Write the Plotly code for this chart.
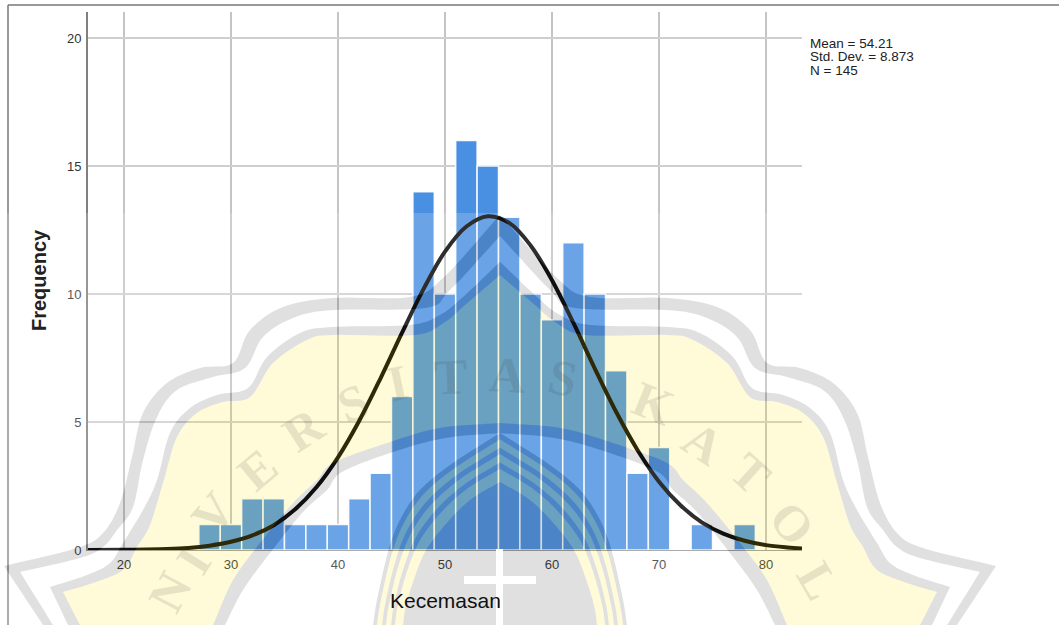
import numpy as np
import plotly.graph_objects as go

# ---------- chart data ----------
bin_centers = [28, 30, 32, 34, 36, 38, 40, 42, 44, 46, 48, 50, 52, 54, 56, 58, 60, 62, 64, 66, 68, 70, 72, 74, 76, 78]
frequencies = [1, 1, 2, 2, 1, 1, 1, 2, 3, 6, 14, 10, 16, 15, 13, 10, 9, 12, 10, 7, 3, 4, 0, 1, 0, 1]
curve_x = [16.64, 20, 24, 26, 28, 30, 32, 34, 36, 38, 40, 42, 44, 46, 48, 50, 52, 54, 56, 58, 60, 62, 64, 66, 68, 70, 72, 74, 76, 78, 80, 82, 83.36]
curve_y = [0.0, 0.01, 0.04, 0.08, 0.17, 0.32, 0.57, 0.97, 1.59, 2.46, 3.62, 5.06, 6.73, 8.5, 10.2, 11.66, 12.64, 13.04, 12.78, 11.9, 10.54, 8.87, 7.09, 5.39, 3.9, 2.67, 1.75, 1.08, 0.64, 0.36, 0.19, 0.1, 0.06]
x_ticks = [20, 30, 40, 50, 60, 70, 80]
y_ticks = [0, 5, 10, 15, 20]
stats_lines = ["Mean = 54.21", "Std. Dev. = 8.873", "N = 145"]
x_title = "Kecemasan"
y_title = "Frequency"

# ---------- page geometry ----------
W, H = 1059, 625
L, R, T, B = 88, 802, 12, 550
CX = 500

def px(x, y):
    return (x - L) / (R - L), 1 - (y - T) / (B - T)

def smooth(pts, n=10):
    p = np.array(pts, float)
    q = np.vstack([2 * p[0] - p[1], p, 2 * p[-1] - p[-2]])
    out = []
    for i in range(1, len(q) - 2):
        for t in np.linspace(0, 1, n, endpoint=False):
            a, b, c, d = q[i - 1], q[i], q[i + 1], q[i + 2]
            out.append(0.5 * (2 * b + (c - a) * t + (2 * a - 5 * b + 4 * c - d) * t ** 2 + (3 * b - a - 3 * c + d) * t ** 3))
    out.append(p[-1])
    return np.array(out)

def loop(*segments):
    left = np.vstack([smooth(s) for s in segments])
    right = left[::-1].copy()
    right[:, 0] = 2 * CX - right[:, 0]
    return np.vstack([left, right])

def sub(poly):
    parts = []
    for i, (x, y) in enumerate(poly):
        a, b = px(x, y)
        parts.append(("M" if i == 0 else "L") + f"{a:.5f},{b:.5f}")
    return " ".join(parts) + " Z"

# watermark outlines (left half, mirrored): top -> tip -> page bottom
c1 = loop([(500, 215), (443, 278), (410, 297), (333, 298), (283, 307), (250, 330), (233, 363), (200, 368), (167, 383), (143, 413), (132, 457), (120, 503), (103, 533), (77, 548), (4, 566)], [(4, 566), (43, 625)])
c2 = loop([(500, 236), (450, 290), (425, 308), (333, 310), (293, 318), (263, 337), (245, 368), (213, 377), (177, 390), (157, 417), (143, 460), (133, 507), (117, 530), (103, 547), (80, 558), (20, 572)], [(20, 572), (53, 625)])
c3 = loop([(500, 262), (463, 297), (440, 315), (410, 325), (333, 327), (300, 333), (267, 357), (248, 388), (217, 395), (190, 408), (170, 433), (157, 480), (143, 510), (123, 543), (110, 563), (87, 575), (50, 587)], [(50, 587), (68, 625)])
c4 = loop([(500, 275), (465, 305), (445, 322), (415, 335), (333, 335), (307, 340), (273, 363), (250, 397), (223, 402), (197, 413), (177, 437), (163, 483), (150, 525), (137, 547), (123, 570), (93, 583), (63, 592)], [(63, 592), (80, 625)])
arc_out = loop([(500, 423), (440, 428), (387, 443), (333, 463), (317, 480), (293, 503), (260, 543), (233, 580), (213, 625)])
arc_in = loop([(500, 433), (445, 438), (393, 452), (342, 472), (327, 490), (303, 512), (270, 553), (243, 590), (225, 625)])
stripe_outer = [(500, 433), (453, 463), (420, 490), (400, 520), (388, 552), (377, 600), (373, 625)]
dome = [(500, 482), (470, 500), (445, 525), (425, 552), (412, 585), (405, 610), (403, 625)]

def ridge(k):
    a, b = np.array(stripe_outer, float), np.array(dome, float)
    return loop(a + (b - a) * k)

page = [(0, 213), (W, 213), (W, 625), (0, 625)]
white_path = " ".join(sub(p) for p in [page, c1, c2, c3, arc_in, ridge(0)])
gray_path = " ".join(sub(p) for p in [c1, c2, c3, c4, arc_out, arc_in, ridge(0), ridge(.13), ridge(.3), ridge(.43), ridge(.6), ridge(.73), ridge(1)])
yellow_path = " ".join(sub(p) for p in [c4, arc_out, ridge(.13), ridge(.3), ridge(.43), ridge(.6), ridge(.73), ridge(1)])
cross_v = [(496, 549), (503, 549), (503, 625), (496, 625)]
cross_h = [(464, 576), (536, 576), (536, 584), (464, 584)]

def paper_shape(path, color, layer="above"):
    return dict(type="path", path=path, xref="paper", yref="paper", fillcolor=color, line=dict(width=0), layer=layer)

shapes = [
    paper_shape(white_path, "rgba(255,255,255,0.18)"),
    paper_shape(gray_path, "rgba(85,85,85,0.18)"),
    paper_shape(yellow_path, "rgba(255,235,40,0.18)"),
    paper_shape(sub(cross_v), "white"),
    paper_shape(sub(cross_h), "white"),
]
for (a, b) in [((8, 5), (8, 625)), ((8, 5), (W, 5))]:
    x0, y0 = px(*a)
    x1, y1 = px(*b)
    shapes.append(dict(type="line", xref="paper", yref="paper", x0=x0, y0=y0, x1=x1, y1=y1, layer="below", line=dict(color="#777777", width=1.5)))

def note(text, x, y, xanchor="center", **kw):
    a, b = px(x, y)
    return dict(text=text, x=a, y=b, xref="paper", yref="paper", showarrow=False, xanchor=xanchor, yanchor="middle", **kw)

LETTER = dict(family="Liberation Serif", size=50, weight=700, color="rgba(61,61,61,0.13)")
wm_letters = [("N", 170, 592, -62), ("I", 193, 561, -58), ("V", 213, 513, -50), ("E", 257, 470, -40), ("R", 303, 430, -33),
              ("S", 353, 403, -22), ("I", 397, 383, -12), ("T", 450, 377, -3), ("A", 507, 375, 3), ("S", 563, 378, 12),
              ("K", 653, 403, 22), ("A", 703, 443, 33), ("T", 750, 473, 42), ("O", 792, 523, 50), ("L", 818, 580, 60)]
annotations = [note(c, x, y, font=LETTER, textangle=a) for c, x, y, a in wm_letters]
for line, y in zip(stats_lines, [44, 57, 71]):
    annotations.append(note(line, 808, y, xanchor="left", font=dict(family="Liberation Sans", size=13.5, color="#222222")))
annotations.append(note(x_title, 445, 600, font=dict(family="Liberation Sans", size=21, color="#111111")))
annotations.append(note(y_title, 39, 280, textangle=-90, font=dict(family="Liberation Sans", size=20, weight=700, color="#222222")))

fig = go.Figure()
fig.add_bar(x=bin_centers, y=frequencies, width=2, marker=dict(color="#4A90E2", line=dict(color="rgba(255,255,255,0.9)", width=1.5)))
fig.add_scatter(x=curve_x, y=curve_y, mode="lines", cliponaxis=False, line=dict(color="#000000", width=4, shape="spline"))
tick_font = dict(family="Liberation Sans", size=13, color="#333333")
fig.update_layout(
    width=W, height=H, autosize=False, showlegend=False,
    margin=dict(l=L, r=W - R, t=T, b=H - B, pad=0),
    paper_bgcolor="white", plot_bgcolor="white",
    shapes=shapes, annotations=annotations,
    xaxis=dict(range=[16.64, 83.36], tickmode="array", tickvals=x_ticks, showgrid=True, gridcolor="#c4c4c4", gridwidth=1.5,
               zeroline=False, showline=True, linecolor="#999999", linewidth=1, ticks="", tickfont=tick_font, ticklabelstandoff=2),
    yaxis=dict(range=[0, 21.02], tickmode="array", tickvals=y_ticks, showgrid=True, gridcolor="#cfcfcf", gridwidth=1.5,
               zeroline=False, showline=True, linecolor="#808080", linewidth=2, ticks="", tickfont=tick_font, ticklabelstandoff=2),
)
fig.write_html("out.html", config={"displayModeBar": False},
               post_script="document.body.style.margin='0';document.documentElement.style.overflow='hidden';")
